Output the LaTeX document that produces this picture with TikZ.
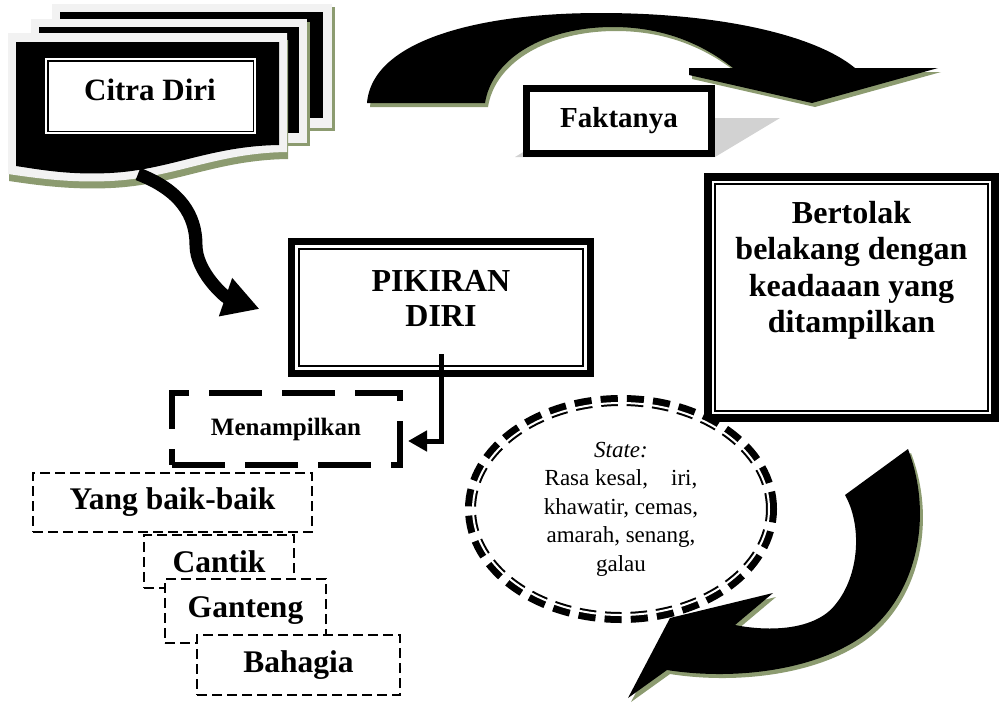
\documentclass[tikz,border=0pt]{standalone}
\usepackage{fontspec}
\setmainfont{Liberation Serif}
\usetikzlibrary{positioning,arrows.meta,shadows,shapes.geometric}
\definecolor{moss}{RGB}{140,155,112}
\definecolor{docgray}{RGB}{242,242,242}
\tikzset{thick frame/.style={draw,line width=#1,fill=white,inner sep=0pt,outer sep=0pt},
	thin line/.style={draw,line width=#1},
	dash box/.style={draw,line width=2pt,dash pattern=on 10pt off 5pt,fill=white,inner sep=0pt,
		font=\bfseries\fontsize{31.5}{36}\selectfont},
	block arrow/.style={fill=black,drop shadow={shadow xshift=3pt,shadow yshift=-4pt,fill=moss,opacity=1}},
	doc shadow/.style={drop shadow={shadow xshift=3pt,shadow yshift=-3pt,fill=moss,opacity=1}},
	caption text/.style={inner sep=0pt,align=center},
}

\begin{document}
\begin{tikzpicture}[x=1pt,y=-1pt]
	\useasboundingbox (0,0) rectangle (999,702);
	
	% pile of documents
	\fill[docgray,doc shadow] (52,4) rectangle (332,128);
	\fill[black] (60,12) rectangle (323,118);
	\fill[docgray,doc shadow] (31,19) rectangle (307,143);
	\fill[black] (39,27) rectangle (299,133);
	\fill[docgray,drop shadow={shadow xshift=1pt,shadow yshift=-7pt,fill=moss,opacity=1}]
		(8,33) -- (287,33) -- (287,152) .. controls (215,153) and (175,178) .. (110,181)
		.. controls (70,183) and (35,178) .. (8,174) -- cycle;
	\fill[black] (16,42) -- (279,42) -- (279,145) .. controls (210,146) and (170,170) .. (110,173)
		.. controls (70,175) and (42,170) .. (16,166) -- cycle;
	\coordinate (docfoot) at (138,174);
	
	\node[thick frame=3.3pt,minimum width=214pt,minimum height=79pt] (citrabox) at (150.5,96) {};
	\draw[thin line=1.6pt] ([shift={(4.2pt,4.2pt)}]citrabox.south west) rectangle ([shift={(-4.2pt,-4.2pt)}]citrabox.north east);
	\node[caption text,anchor=base,font=\bfseries\fontsize{31}{36}\selectfont] (citra) at (150,100) {Citra Diri};
	
	% big curved arrow on top
	\fill[block arrow] (367,103) .. controls (372,40) and (480,13) .. (600,13)
		.. controls (720,13) and (815,35) .. (855,68) -- (938,68) -- (812,103) -- (689,75) -- (689,68) -- (733,68)
		.. controls (700,42) and (660,27) .. (613,27) .. controls (545,27) and (492,58) .. (485,103) -- cycle;
	
	\fill[gray!35] (515,157) -- (715,157) -- (780,118) -- (580,118) -- cycle;
	\node[thick frame=7pt,minimum width=185pt,minimum height=65pt,font=\bfseries\fontsize{29}{34}\selectfont] (fakta) at (619,121) {Faktanya};
	
	% pikiran diri
	\node[thick frame=7pt,minimum width=299pt,minimum height=132pt] (pikiranbox) at (441,307.5) {};
	\draw[thin line=1.8pt] ([shift={(7.5pt,7.5pt)}]pikiranbox.south west) rectangle ([shift={(-7.5pt,-7.5pt)}]pikiranbox.north east);
	\node[caption text,anchor=north,font=\bfseries\fontsize{32}{35}\selectfont] (pikiran) at (441,270) {PIKIRAN\\DIRI};
	
	\draw[line width=13pt,-{Triangle[length=36pt,width=38pt]}] (docfoot) .. controls (180,190) and (196,215) .. (196,245)
		.. controls (196,272) and (225,297) .. ([xshift=-32pt,yshift=-1.5pt]pikiranbox.west);
	
	\node[draw,line width=6pt,dash pattern=on 53pt off 20pt,minimum width=228pt,minimum height=72pt,inner sep=0pt,outer sep=0pt,
		font=\bfseries\fontsize{25}{30}\selectfont] (tampil) at (286,429) {Menampilkan};
	\draw[line width=5pt,-{Triangle[length=19pt,width=20pt]}] ([yshift=19.5pt]pikiranbox.south) |- ([xshift=8pt,yshift=-12pt]tampil.east);
	
	\node[dash box,minimum width=279pt,minimum height=59pt] (yang) at (172.5,502.5) {Yang baik-baik};
	\node[dash box,minimum width=150pt,minimum height=53pt] (cantik) at (219,561.5) {Cantik};
	\node[dash box,minimum width=161pt,minimum height=64pt] (ganteng) at (245.5,611) {Ganteng};
	\node[dash box,minimum width=203pt,minimum height=60pt] (bahagia) at (298.5,665) {Bahagia};
	
	% bertolak belakang
	\node[thick frame=8pt,minimum width=287pt,minimum height=241pt] (bertolakbox) at (851.5,297.5) {};
	\draw[thin line=2pt] ([shift={(7pt,7pt)}]bertolakbox.south west) rectangle ([shift={(-7pt,-7pt)}]bertolakbox.north east);
	\node[caption text,anchor=north,font=\bfseries\fontsize{32}{36.5}\selectfont] (bertolak) at (851.5,201)
		{Bertolak\\belakang dengan\\keadaaan yang\\ditampilkan};
	
	% curved arrow below
	\fill[block arrow] (908,449) .. controls (935,520) and (915,600) .. (860,638)
		.. controls (810,672) and (730,680) .. (667,670) -- (628,698) -- (670,618) -- (773,593) -- (735,625)
		.. controls (770,632) and (815,630) .. (835,605) .. controls (860,575) and (862,525) .. (845,495) -- cycle;
	
	\node[ellipse,draw,fill=white,line width=11pt,dash pattern=on 17pt off 9pt,minimum width=301pt,minimum height=217pt,
		inner sep=0pt,align=center,font=\fontsize{23}{28.5}\selectfont] (state) at (621,509)
		{\textit{State:}\\Rasa kesal,\ \ \ \ iri,\\khawatir, cemas,\\amarah, senang,\\galau};
	\draw[white,line width=2pt] (state.center) ellipse [x radius=148pt,y radius=106pt];
\end{tikzpicture}
\end{document}
